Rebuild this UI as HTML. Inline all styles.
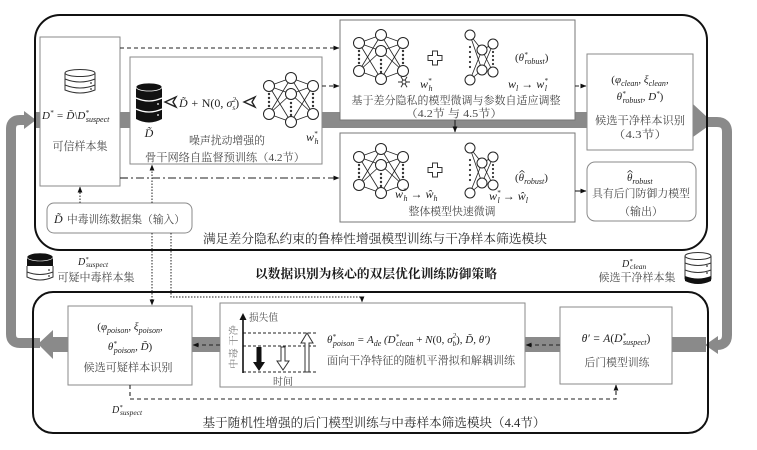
<!DOCTYPE html>
<html><head><meta charset="utf-8"><style>
html,body{margin:0;padding:0;background:#fff;}
svg{display:block;}
.cn{font-family:"Liberation Serif","Noto Serif CJK SC",serif;fill:#4a4a4a;}
.cd{font-family:"Liberation Serif","Noto Serif CJK SC",serif;fill:#2a2a2a;}
.m{font-family:"Liberation Serif",serif;font-style:italic;fill:#222;}
</style></head><body>
<svg width="757" height="450" viewBox="0 0 757 450" xmlns="http://www.w3.org/2000/svg">
<defs>
<marker id="ah" markerWidth="6" markerHeight="6" refX="5.5" refY="3" orient="auto" markerUnits="userSpaceOnUse"><path d="M0,0.6 L6,3 L0,5.4 Z" fill="#111"/></marker>
<g id="nn">
 <g stroke="#222" stroke-width="0.8">
  <line x1="6" y1="14" x2="28" y2="6"/><line x1="6" y1="14" x2="28" y2="22"/><line x1="6" y1="14" x2="28" y2="50"/>
  <line x1="6" y1="42" x2="28" y2="6"/><line x1="6" y1="42" x2="28" y2="22"/><line x1="6" y1="42" x2="28" y2="50"/>
  <line x1="50" y1="14" x2="28" y2="6"/><line x1="50" y1="14" x2="28" y2="22"/><line x1="50" y1="14" x2="28" y2="50"/>
  <line x1="50" y1="42" x2="28" y2="6"/><line x1="50" y1="42" x2="28" y2="22"/><line x1="50" y1="42" x2="28" y2="50"/>
 </g>
 <g fill="#fff" stroke="#222" stroke-width="1">
  <circle cx="6" cy="14" r="5.5"/><circle cx="6" cy="42" r="5.5"/>
  <circle cx="28" cy="6" r="5.5"/><circle cx="28" cy="22" r="5.5"/><circle cx="28" cy="50" r="5.5"/>
  <circle cx="50" cy="14" r="5.5"/><circle cx="50" cy="42" r="5.5"/>
 </g>
 <g fill="#333">
  <circle cx="6" cy="22" r="1.2"/><circle cx="6" cy="26" r="1.2"/><circle cx="6" cy="30" r="1.2"/><circle cx="6" cy="34" r="1.2"/>
  <circle cx="28" cy="31" r="1.2"/><circle cx="28" cy="35" r="1.2"/><circle cx="28" cy="39" r="1.2"/><circle cx="28" cy="43" r="1.2"/>
  <circle cx="50" cy="22" r="1.2"/><circle cx="50" cy="26" r="1.2"/><circle cx="50" cy="30" r="1.2"/><circle cx="50" cy="34" r="1.2"/>
 </g>
</g>
<g id="nns">
 <g stroke="#222" stroke-width="0.8">
  <line x1="5" y1="5" x2="17" y2="20"/><line x1="5" y1="5" x2="17" y2="40"/>
  <line x1="5" y1="50" x2="17" y2="20"/><line x1="5" y1="50" x2="17" y2="40"/>
  <line x1="17" y1="20" x2="28" y2="14"/><line x1="17" y1="20" x2="28" y2="42"/>
  <line x1="17" y1="40" x2="28" y2="14"/><line x1="17" y1="40" x2="28" y2="42"/>
 </g>
 <g fill="#fff" stroke="#222" stroke-width="1">
  <circle cx="5" cy="5" r="5"/><circle cx="5" cy="50" r="5"/>
  <circle cx="17" cy="20" r="5"/><circle cx="17" cy="40" r="5"/>
  <circle cx="28" cy="14" r="5"/><circle cx="28" cy="42" r="5"/>
 </g>
 <g fill="#333">
  <circle cx="5" cy="17" r="1.1"/><circle cx="5" cy="22" r="1.1"/><circle cx="5" cy="27" r="1.1"/><circle cx="5" cy="32" r="1.1"/><circle cx="5" cy="37" r="1.1"/>
  <circle cx="28" cy="22" r="1.1"/><circle cx="28" cy="26" r="1.1"/><circle cx="28" cy="30" r="1.1"/><circle cx="28" cy="34" r="1.1"/>
 </g>
</g>
</defs>

<!-- gray flow bands -->
<g fill="#8a8a8a">
 <path d="M40,343 H20 Q11,343 11,334 V129 Q11,120 20,120 H27" fill="none" stroke="#8a8a8a" stroke-width="10"/>
 <polygon points="24,111 36,120 24,129"/>
 <rect x="35" y="112" width="660" height="16"/>
 <polygon points="693,104 707,117 707,127 693,137"/>
 <path d="M700,122 H717 Q727,122 727,132 V335 Q727,345 717,345 H714" fill="none" stroke="#8a8a8a" stroke-width="10"/>
 <polygon points="705,345 718,336 718,354"/>
 <rect x="52" y="337" width="654" height="15"/>
 <polygon points="38,344 53,330 53,359"/>
</g>

<!-- outer boxes -->
<rect x="35" y="15" width="672" height="235" rx="25" fill="none" stroke="#111" stroke-width="2"/>
<rect x="33" y="292" width="675" height="141" rx="20" fill="none" stroke="#111" stroke-width="2"/>

<!-- inner boxes -->
<g fill="#fff" stroke="#8a8a8a" stroke-width="1">
 <rect x="40" y="37" width="80" height="149"/>
 <rect x="130" y="57" width="192" height="107"/>
 <rect x="340" y="20" width="235" height="100" stroke="#777"/>
 <rect x="340" y="133" width="235" height="89" stroke="#777"/>
 <rect x="587" y="54" width="106" height="96"/>
 <rect x="587" y="162" width="109" height="59" rx="8"/>
 <rect x="47" y="203" width="145" height="30" rx="7"/>
 <rect x="68" y="306" width="124" height="79"/>
 <rect x="220" y="303" width="305" height="84"/>
 <rect x="560" y="307" width="112" height="77"/>
</g>

<!-- connectors -->
<g fill="none" stroke="#222" stroke-width="1.1">
 <line x1="120" y1="48" x2="339" y2="48" stroke-dasharray="4,3" marker-end="url(#ah)"/>
 <line x1="322" y1="86" x2="339" y2="86" stroke-dasharray="4,3" marker-end="url(#ah)"/>
 <line x1="120" y1="178" x2="339" y2="178" stroke-dasharray="8,3,2,3" marker-end="url(#ah)"/>
 <line x1="575" y1="86" x2="586" y2="86" stroke-dasharray="4,3" marker-end="url(#ah)"/>
 <line x1="575" y1="191" x2="586" y2="191" marker-end="url(#ah)"/>
 <line x1="455" y1="120" x2="455" y2="132" marker-end="url(#ah)"/>
 <g stroke-dasharray="1.5,1.5" stroke-width="1">
  <line x1="80" y1="203" x2="80" y2="187" marker-end="url(#ah)"/>
  <line x1="152" y1="203" x2="152" y2="165" marker-end="url(#ah)"/>
  <line x1="152" y1="233" x2="152" y2="305" marker-end="url(#ah)"/>
  <polyline points="171,233 171,297 362,297 362,302" marker-end="url(#ah)"/>
 </g>
 <line x1="220" y1="345" x2="193" y2="345" stroke-dasharray="4,3" marker-end="url(#ah)"/>
 <line x1="560" y1="345" x2="526" y2="345" stroke-dasharray="4,3" marker-end="url(#ah)"/>
 <polyline points="130,385 130,399 616,399 616,385" stroke-dasharray="4,3" marker-end="url(#ah)"/>
</g>

<!-- trusted box -->
<g fill="#fff" stroke="#333" stroke-width="1">
 <path d="M65,73 V90 Q80,96 95,90 V73"/>
 <ellipse cx="80" cy="73" rx="15" ry="3.5"/>
 <path d="M65,79 Q80,85 95,79" fill="none"/>
 <path d="M65,85 Q80,91 95,85" fill="none"/>
</g>
<circle cx="91" cy="83" r="0.9" fill="#333"/><circle cx="91" cy="89" r="0.9" fill="#333"/>
<text class="m" x="42" y="119" font-size="11">D<tspan font-size="7" dy="-4">*</tspan><tspan dy="4"> = D̃\D</tspan><tspan font-size="7" dy="-4">*</tspan><tspan font-size="8" dx="-3" dy="7">suspect</tspan></text>
<text class="cn" x="80" y="150" font-size="11.5" text-anchor="middle" textLength="55" lengthAdjust="spacingAndGlyphs">可信样本集</text>

<!-- box2 -->
<g>
 <path d="M136,87 V119 Q149,126 162,119 V87 Z" fill="#111"/>
 <ellipse cx="149" cy="87" rx="13" ry="4" fill="#111" stroke="#fff" stroke-width="0.8"/>
 <path d="M136,98 Q149,104 162,98 M136,109 Q149,115 162,109" stroke="#fff" stroke-width="1.3" fill="none"/>
 <circle cx="158" cy="104" r="0.9" fill="#fff"/><circle cx="158" cy="115" r="0.9" fill="#fff"/>
</g>
<text class="m" x="149" y="137" font-size="12" text-anchor="middle">D̃</text>
<path d="M165,102 L176,97 L173,102 L176,107 Z" fill="#fff" stroke="#222" stroke-width="1.4"/>
<text class="m" x="179" y="107" font-size="12">D̃ + <tspan font-style="normal">N(0, </tspan>σ<tspan font-size="7" dy="-5">2</tspan><tspan font-size="7" dx="-3.5" dy="8">s</tspan><tspan font-style="normal" dy="-3">)</tspan></text>
<path d="M244,102 L255,97 L252,102 L255,107 Z" fill="#fff" stroke="#222" stroke-width="1.4"/>
<use href="#nn" x="263" y="72"/>
<text class="m" x="306" y="141" font-size="12">w<tspan font-size="7" dy="-5">*</tspan><tspan font-size="8" dx="-3" dy="8">h</tspan></text>
<text class="cn" x="227" y="144" font-size="11" text-anchor="middle" textLength="76" lengthAdjust="spacingAndGlyphs">噪声扰动增强的</text>
<text class="cn" x="225" y="161" font-size="11" text-anchor="middle" textLength="160" lengthAdjust="spacingAndGlyphs">骨干网络自监督预训练（4.2节）</text>

<!-- TM1 -->
<use href="#nn" x="353" y="29"/>
<g stroke="#333" stroke-width="1">
 <line x1="398" y1="82" x2="410" y2="82"/><line x1="401" y1="76.8" x2="407" y2="87.2"/><line x1="407" y1="76.8" x2="401" y2="87.2"/>
 <circle cx="404" cy="82" r="2" fill="#fff"/>
</g>
<text class="m" x="420" y="88" font-size="12">w<tspan font-size="7" dy="-5">*</tspan><tspan font-size="8" dx="-3" dy="8">h</tspan></text>
<path d="M432.5,51 h5 v4.5 h4.5 v5 h-4.5 v4.5 h-5 v-4.5 h-4.5 v-5 h4.5 Z" fill="#fff" stroke="#333" stroke-width="1"/>
<use href="#nns" x="465" y="30"/>
<text class="m" x="515" y="61" font-size="11"><tspan font-style="normal">(</tspan>θ<tspan font-size="7" dy="-4">*</tspan><tspan font-size="8" dx="-3" dy="7">robust</tspan><tspan font-style="normal" dy="-3">)</tspan></text>
<text class="m" x="508" y="88" font-size="12">w<tspan font-size="8" dy="3">l</tspan><tspan font-style="normal" dy="-3"> → </tspan>w<tspan font-size="7" dy="-5">*</tspan><tspan font-size="8" dx="-3" dy="8">l</tspan></text>
<text class="cn" x="456" y="104" font-size="11" text-anchor="middle" textLength="209" lengthAdjust="spacingAndGlyphs">基于差分隐私的模型微调与参数自适应调整</text>
<text class="cn" x="454" y="117" font-size="11" text-anchor="middle" textLength="97" lengthAdjust="spacingAndGlyphs">（4.2节 与 4.5节）</text>

<!-- TM2 -->
<use href="#nn" x="353" y="143"/>
<path d="M432.5,163 h5 v4.5 h4.5 v5 h-4.5 v4.5 h-5 v-4.5 h-4.5 v-5 h4.5 Z" fill="#fff" stroke="#333" stroke-width="1"/>
<use href="#nns" x="465" y="143"/>
<text class="m" x="515" y="181" font-size="11"><tspan font-style="normal">(</tspan>θ<tspan font-size="8" dy="3">robust</tspan><tspan font-style="normal" dy="-3">)</tspan></text>
<path d="M519.5,172.5 L522,170.5 L524.5,172.5" fill="none" stroke="#222" stroke-width="0.8"/>
<text class="m" x="395" y="198" font-size="12">w<tspan font-size="7" dy="-5">*</tspan><tspan font-size="8" dx="-3" dy="8">h</tspan><tspan font-style="normal" dy="-3"> → </tspan>ŵ<tspan font-size="8" dy="3">h</tspan></text>
<text class="m" x="489" y="200" font-size="12">w<tspan font-size="7" dy="-5">*</tspan><tspan font-size="8" dx="-3" dy="8">l</tspan><tspan font-style="normal" dy="-3"> → </tspan>ŵ<tspan font-size="8" dy="3">l</tspan></text>
<text class="cn" x="452" y="215" font-size="11" text-anchor="middle" textLength="87" lengthAdjust="spacingAndGlyphs">整体模型快速微调</text>

<!-- right box -->
<text class="m" x="640" y="83" font-size="11" text-anchor="middle"><tspan font-style="normal">(</tspan>φ<tspan font-size="8" dy="3">clean</tspan><tspan dy="-3">, ξ</tspan><tspan font-size="8" dy="3">clean</tspan><tspan dy="-3">,</tspan></text>
<text class="m" x="640" y="100" font-size="11" text-anchor="middle">θ<tspan font-size="7" dy="-4">*</tspan><tspan font-size="8" dx="-3" dy="7">robust</tspan><tspan dy="-3">, D</tspan><tspan font-size="7" dy="-4">*</tspan><tspan font-style="normal" dy="4">)</tspan></text>
<text class="cn" x="640" y="124" font-size="11" text-anchor="middle" textLength="90" lengthAdjust="spacingAndGlyphs">候选干净样本识别</text>
<text class="cn" x="640" y="138" font-size="11" text-anchor="middle" textLength="55" lengthAdjust="spacingAndGlyphs">（4.3节）</text>

<!-- output box -->
<text class="m" x="627" y="181" font-size="11">θ<tspan font-size="8" dy="3">robust</tspan></text>
<path d="M627.5,172.5 L630,170.5 L632.5,172.5" fill="none" stroke="#222" stroke-width="0.8"/>
<text class="cn" x="641" y="197" font-size="11" text-anchor="middle" textLength="98" lengthAdjust="spacingAndGlyphs">具有后门防御力模型</text>
<text class="cn" x="641" y="215" font-size="11" text-anchor="middle" textLength="44" lengthAdjust="spacingAndGlyphs">（输出）</text>

<!-- input box -->
<text class="m" x="54" y="223" font-size="12">D̃</text>
<text class="cn" x="126" y="223" font-size="11" text-anchor="middle" textLength="118" lengthAdjust="spacingAndGlyphs">中毒训练数据集（输入）</text>

<!-- top caption -->
<text class="cd" x="375" y="243" font-size="12.5" text-anchor="middle" textLength="344" lengthAdjust="spacingAndGlyphs">满足差分隐私约束的鲁棒性增强模型训练与干净样本筛选模块</text>

<!-- middle title -->
<text class="cd" x="376" y="278" font-size="12.5" font-weight="bold" text-anchor="middle" textLength="242" lengthAdjust="spacingAndGlyphs" style="fill:#1a1a1a">以数据识别为核心的双层优化训练防御策略</text>

<!-- left db -->
<g>
 <path d="M27,257 V266 Q40,271 53,266 V257 Z" fill="#111"/>
 <ellipse cx="40" cy="257" rx="13" ry="4" fill="#111" stroke="#fff" stroke-width="0.6"/>
 <path d="M27,266 V277 Q40,283 53,277 V266" fill="#fff" stroke="#333" stroke-width="1"/>
 <path d="M27,272 Q40,277 53,272" fill="none" stroke="#333" stroke-width="1"/>
 <circle cx="49" cy="270" r="0.9" fill="#333"/><circle cx="49" cy="276" r="0.9" fill="#333"/>
</g>
<text class="m" x="78" y="265" font-size="10">D<tspan font-size="6.5" dy="-4">*</tspan><tspan font-size="7.5" dx="-2.5" dy="6">suspect</tspan></text>
<text class="cn" x="96" y="281" font-size="11" text-anchor="middle" textLength="77" lengthAdjust="spacingAndGlyphs">可疑中毒样本集</text>

<!-- right db -->
<g>
 <path d="M685,256 V279 Q698,285 711,279 V256" fill="#fff" stroke="#333" stroke-width="1"/>
 <ellipse cx="698" cy="256" rx="13" ry="3.5" fill="#fff" stroke="#333" stroke-width="1"/>
 <path d="M685,263 Q698,268 711,263 M685,270 Q698,275 711,270" fill="none" stroke="#333" stroke-width="1"/>
 <path d="M685,276 V281 Q698,287 711,281 V276 Q698,281 685,276 Z" fill="#111"/>
 <circle cx="707" cy="266" r="0.9" fill="#333"/><circle cx="707" cy="273" r="0.9" fill="#333"/>
</g>
<text class="m" x="622" y="267" font-size="10">D<tspan font-size="6.5" dy="-4">*</tspan><tspan font-size="7.5" dx="-2.5" dy="6">clean</tspan></text>
<text class="cn" x="637" y="281" font-size="11" text-anchor="middle" textLength="77" lengthAdjust="spacingAndGlyphs">候选干净样本集</text>

<!-- BL box -->
<text class="m" x="130" y="330" font-size="11" text-anchor="middle"><tspan font-style="normal">(</tspan>φ<tspan font-size="8" dy="3">poison</tspan><tspan dy="-3">, ξ</tspan><tspan font-size="8" dy="3">poison</tspan><tspan dy="-3">,</tspan></text>
<text class="m" x="130" y="350" font-size="11" text-anchor="middle">θ<tspan font-size="7" dy="-4">*</tspan><tspan font-size="8" dx="-3" dy="7">poison</tspan><tspan dy="-3">, D̃</tspan><tspan font-style="normal">)</tspan></text>
<text class="cn" x="128" y="371" font-size="11" text-anchor="middle" textLength="89" lengthAdjust="spacingAndGlyphs">候选可疑样本识别</text>
<text class="m" x="112" y="413" font-size="10">D<tspan font-size="6.5" dy="-4">*</tspan><tspan font-size="7.5" dx="-2.5" dy="6">suspect</tspan></text>

<!-- BM box: loss diagram -->
<g stroke="#222" stroke-width="1" fill="none" stroke-dasharray="3,2">
 <line x1="243" y1="333" x2="318" y2="333"/>
 <line x1="243" y1="346" x2="318" y2="346"/>
 <line x1="243" y1="372" x2="318" y2="372"/>
</g>
<line x1="243" y1="373" x2="243" y2="318" stroke="#111" stroke-width="1.6"/>
<polygon points="243,313 239.5,320 246.5,320" fill="#111"/>
<text class="cn" x="249" y="321" font-size="10" textLength="29" lengthAdjust="spacingAndGlyphs">损失值</text>
<text class="cn" x="237" y="347" font-size="9.5" text-anchor="middle" transform="rotate(-90 237 347)" style="fill:#777" textLength="44" lengthAdjust="spacingAndGlyphs">中毒 干净</text>
<path d="M256.5,347 h5 v15 h3.5 l-6,9 l-6,-9 h3.5 Z" fill="#111"/>
<path d="M281,347 h4 v14 h4 l-6,9 l-6,-9 h4 Z" fill="#fff" stroke="#333" stroke-width="1"/>
<path d="M305,372 v-29 h-4 l6,-10 l6,10 h-4 v29 Z" fill="#fff" stroke="#333" stroke-width="1"/>
<text class="cn" x="273" y="385" font-size="10" textLength="20" lengthAdjust="spacingAndGlyphs">时间</text>
<text class="m" x="327" y="343" font-size="11">θ<tspan font-size="7" dy="-4">*</tspan><tspan font-size="8" dx="-3" dy="7">poison</tspan><tspan dy="-3"> = A</tspan><tspan font-size="8" dy="3">de</tspan><tspan dy="-3"> (D</tspan><tspan font-size="7" dy="-4">*</tspan><tspan font-size="8" dx="-3" dy="7">clean</tspan><tspan font-style="normal" dy="-3"> + </tspan>N<tspan font-style="normal">(0, </tspan>σ<tspan font-size="7" dy="-5">2</tspan><tspan font-size="7" dx="-3.5" dy="8">b</tspan><tspan font-style="normal" dy="-3">), </tspan>D̃, θ′)</text>
<text class="cn" x="421" y="364" font-size="11" text-anchor="middle" textLength="188" lengthAdjust="spacingAndGlyphs">面向干净特征的随机平滑拟和解耦训练</text>

<!-- BR box -->
<text class="m" x="616" y="342" font-size="11.5" text-anchor="middle">θ′ = A<tspan font-style="normal">(</tspan>D<tspan font-size="7" dy="-4">*</tspan><tspan font-size="8" dx="-3" dy="7">suspect</tspan><tspan font-style="normal" dy="-3">)</tspan></text>
<text class="cn" x="617" y="366" font-size="11" text-anchor="middle" textLength="65" lengthAdjust="spacingAndGlyphs">后门模型训练</text>

<!-- bottom caption -->
<text class="cd" x="374" y="427" font-size="12.5" text-anchor="middle" textLength="343" lengthAdjust="spacingAndGlyphs">基于随机性增强的后门模型训练与中毒样本筛选模块（4.4节）</text>
</svg>
</body></html>
